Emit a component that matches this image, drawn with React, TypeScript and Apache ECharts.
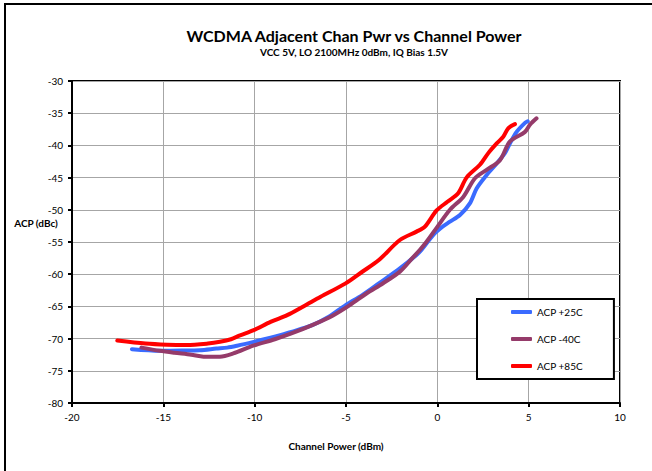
import React, { useEffect, useRef } from "react";
import * as echarts from "echarts";

const seriesNames = ["ACP +25C", "ACP -40C", "ACP +85C"];
const seriesColors = ["#3A6BFF", "#953B6A", "#FF0000"];

const acp25: [number, number][] = [
  [-16.72, -71.65], [-15.2, -71.88], [-14.0, -71.85], [-13.0, -71.8], [-12.1, -71.55],
  [-11.5, -71.4], [-10.96, -71.1], [-10.05, -70.5], [-9.13, -69.85], [-8.6, -69.45],
  [-7.99, -68.95], [-6.85, -67.9], [-5.94, -66.6], [-5.02, -64.8], [-4.11, -63.25],
  [-3.2, -61.43], [-2.05, -59.1], [-1.14, -57.0], [-0.86, -56.2], [-0.22, -53.9],
  [0.3, -52.6], [0.69, -51.85], [1.24, -50.8], [1.78, -49.0], [2.15, -46.7],
  [2.7, -44.6], [3.25, -42.8], [3.7, -41.2], [3.97, -39.7], [4.34, -37.9],
  [4.8, -36.5], [4.95, -36.25],
];

const acpMinus40: [number, number][] = [
  [-16.2, -71.4], [-15.2, -71.9], [-14.4, -72.2], [-13.47, -72.5], [-12.8, -72.8],
  [-11.9, -72.8], [-11.17, -72.3], [-10.08, -71.1], [-8.9, -70.1], [-7.99, -69.2],
  [-6.85, -67.9], [-5.71, -66.4], [-4.79, -64.8], [-3.88, -63.0], [-2.97, -61.4],
  [-2.05, -59.6], [-1.37, -57.5], [-0.95, -56.2], [-0.6, -55.0], [-0.04, -52.8],
  [0.69, -50.0], [1.42, -48.0], [2.06, -45.1], [2.7, -43.8], [3.43, -42.3],
  [3.97, -39.4], [4.8, -37.9], [5.07, -36.8], [5.43, -35.8],
];

const acp85: [number, number][] = [
  [-17.52, -70.3], [-15.98, -70.77], [-14.8, -70.95], [-13.72, -71.0], [-12.56, -70.77],
  [-11.9, -70.5], [-11.3, -70.1], [-10.8, -69.5], [-10.05, -68.69], [-9.13, -67.4],
  [-8.22, -66.36], [-7.31, -64.96], [-6.39, -63.51], [-5.02, -61.43], [-4.11, -59.62],
  [-3.2, -57.8], [-2.05, -54.69], [-1.14, -53.39], [-0.68, -52.61], [-0.04, -50.1],
  [0.57, -48.72], [1.14, -47.43], [1.6, -45.0], [2.33, -43.0], [2.79, -41.2],
  [3.25, -39.7], [3.61, -38.65], [3.88, -37.35], [4.25, -36.7],
];

const seriesData = [acp25, acpMinus40, acp85];

const titleText = "WCDMA Adjacent Chan Pwr vs Channel Power";
const subtitleText = "VCC 5V, LO 2100MHz 0dBm, IQ Bias 1.5V";
const xName = "Channel Power (dBm)";
const yName = "ACP (dBc)";

const FONT = "Lato, 'Open Sans', sans-serif";

export default function App() {
  const ref = useRef<HTMLDivElement>(null);
  useEffect(() => {
    if (!ref.current) return;
    const chart = echarts.init(ref.current, null, { renderer: "svg" });
    chart.setOption({
      animation: false,
      backgroundColor: "#ffffff",
      textStyle: { fontFamily: FONT },
      title: {
        text: titleText,
        subtext: subtitleText,
        left: 349,
        textAlign: "center",
        top: 22,
        itemGap: 4,
        textStyle: { fontFamily: FONT, fontSize: 16, fontWeight: "bold", color: "#000" },
        subtextStyle: { fontFamily: FONT, fontSize: 10, fontWeight: "bold", color: "#000" },
      },
      grid: {
        left: 72,
        right: 32,
        top: 81,
        bottom: 68,
        show: true,
        borderColor: "#000",
        borderWidth: 2,
        backgroundColor: "transparent",
      },
      legend: {
        orient: "vertical",
        left: 477,
        top: 299,
        width: 132,
        padding: [8, 31, 8, 34],
        itemGap: 17,
        itemWidth: 21,
        itemHeight: 4,
        icon: "roundRect",
        backgroundColor: "#fff",
        borderColor: "#000",
        borderWidth: 2,
        textStyle: { fontFamily: FONT, fontSize: 10, color: "#000" },
        data: seriesNames,
      },
      xAxis: {
        type: "value",
        min: -20,
        max: 10,
        interval: 5,
        axisLine: { show: true, onZero: false, lineStyle: { color: "#000", width: 2 } },
        axisTick: { show: true, inside: false, length: 4, lineStyle: { color: "#000", width: 2 } },
        axisLabel: { color: "#000", fontSize: 10, margin: 9, fontFamily: FONT },
        splitLine: { show: true, lineStyle: { color: "#a6a6a6", width: 1 } },
      },
      yAxis: {
        type: "value",
        min: -80,
        max: -30,
        interval: 5,
        axisLine: { show: true, onZero: false, lineStyle: { color: "#000", width: 2 } },
        axisTick: { show: true, inside: false, length: 4, lineStyle: { color: "#000", width: 2 } },
        axisLabel: { color: "#000", fontSize: 10, margin: 9, fontFamily: FONT },
        splitLine: { show: true, lineStyle: { color: "#a6a6a6", width: 1 } },
      },
      graphic: [
        {
          type: "rect",
          shape: { x: 5, y: 4, width: 700, height: 520 },
          style: { fill: "none", stroke: "#000", lineWidth: 2 },
          silent: true,
        },
        {
          type: "text",
          x: 36,
          y: 223,
          style: {
            text: yName,
            fontFamily: FONT,
            fontSize: 10,
            fontWeight: "bold",
            fill: "#000",
            align: "center",
            verticalAlign: "middle",
          },
        },
        {
          type: "text",
          x: 336,
          y: 446,
          style: {
            text: xName,
            fontFamily: FONT,
            fontSize: 10,
            fontWeight: "bold",
            fill: "#000",
            align: "center",
            verticalAlign: "middle",
          },
        },
      ],
      series: seriesNames.map((name, i) => ({
        name,
        type: "line",
        data: seriesData[i],
        showSymbol: false,
        symbol: "none",
        smooth: 0.3,
        color: seriesColors[i],
        lineStyle: { color: seriesColors[i], width: 4, cap: "round", join: "round" },
      })),
    });
    return () => chart.dispose();
  }, []);
  return (
    <div
      ref={ref}
      style={{ position: "absolute", left: 0, top: 0, width: 652, height: 471 }}
    />
  );
}
